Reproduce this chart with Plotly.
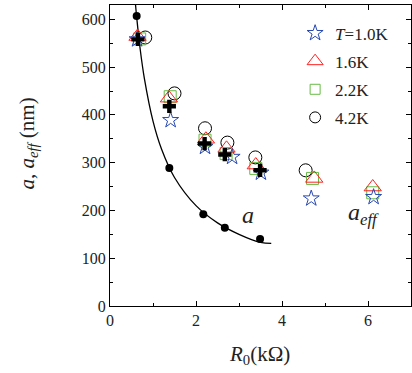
import plotly.graph_objects as go

# a (black dots) and fitted curve
a_R = [0.62, 1.38, 2.17, 2.67, 3.49]
a_val = [607, 289, 192, 164, 140]
curve_R = [0.59, 0.62, 0.7, 0.8, 1.0, 1.2, 1.5, 2.0, 2.5, 3.0, 3.5, 3.75]
curve_a = [634, 605, 539, 476, 387, 328, 269, 210, 174, 150, 133, 131]

# a_eff black crosses
cross_R = [0.65, 1.38, 2.20, 2.67, 3.49]
cross_v = [558, 418, 340, 317, 284]

# T = 1.0K stars
t10_R = [0.63, 1.41, 2.21, 2.84, 3.51, 4.68, 6.13]
t10_v = [558, 389, 333, 312, 279, 225, 228]
# 1.6K triangles
t16_R = [0.64, 1.37, 2.23, 2.71, 3.39, 4.75, 6.11]
t16_v = [564, 435, 349, 330, 295, 267, 249]
# 2.2K squares
t22_R = [0.69, 1.40, 2.21, 2.70, 3.39, 4.71, 6.11]
t22_v = [559, 438, 347, 319, 288, 267, 237]
# 4.2K circles
t42_R = [0.82, 1.50, 2.21, 2.73, 3.38, 4.55]
t42_v = [562, 445, 372, 342, 311, 284]

serif = "Liberation Serif"
fig = go.Figure()
fig.add_trace(go.Scatter(x=curve_R, y=curve_a, mode="lines", line=dict(color="black", width=1.3, shape="spline"), showlegend=False))
fig.add_trace(go.Scatter(x=a_R, y=a_val, mode="markers", marker=dict(symbol="circle", size=8, color="black"), showlegend=False))
fig.add_trace(go.Scatter(x=t42_R, y=t42_v, mode="markers", name="4.2K",
                         marker=dict(symbol="circle-open", size=13, color="black", line=dict(width=1)), showlegend=False))
fig.add_trace(go.Scatter(x=t22_R, y=t22_v, mode="markers", name="2.2K",
                         marker=dict(symbol="square-open", size=12, color="#66bb44", line=dict(width=1)), showlegend=False))
fig.add_trace(go.Scatter(x=t16_R, y=t16_v, mode="markers", name="1.6K",
                         marker=dict(symbol="triangle-up-open", size=15, color="#ff2020", line=dict(width=1)), showlegend=False))
fig.add_trace(go.Scatter(x=t10_R, y=t10_v, mode="markers", name="<i>T</i>=1.0K",
                         marker=dict(symbol="star-open", size=12, color="#2848b0", line=dict(width=1)), showlegend=False))
fig.add_trace(go.Scatter(x=cross_R, y=cross_v, mode="markers",
                         marker=dict(symbol="cross", size=11, color="black", line=dict(width=0)), showlegend=False))

# legend entries (dummy traces for legend display)
for i, (nm, sym, col, sz) in enumerate([("<i>T</i>=1.0K", "star-open", "#2848b0", 12),
                                        ("1.6K", "triangle-up-open", "#ff2020", 14),
                                        ("2.2K", "square-open", "#66bb44", 10),
                                        ("4.2K", "circle-open", "black", 11)]):
    fig.add_trace(go.Scatter(x=[None], y=[None], mode="markers", name=nm, legendgroup=f"g{i}",
                             marker=dict(symbol=sym, size=sz, color=col, line=dict(width=1))))

axis_common = dict(showline=True, linecolor="black", linewidth=1, mirror="allticks", ticks="inside",
                   ticklen=5, tickcolor="black", showgrid=False, zeroline=False,
                   tickfont=dict(family=serif, size=16, color="#222"))
fig.update_xaxes(range=[0, 7], dtick=2, tick0=0,
                 minor=dict(ticks="inside", ticklen=3, dtick=1, tickcolor="black", showgrid=False), **axis_common)
fig.update_yaxes(range=[0, 630], dtick=100, tick0=0,
                 minor=dict(ticks="inside", ticklen=3, dtick=50, tickcolor="black", showgrid=False), **axis_common)

fig.update_layout(
    width=412, height=373, margin=dict(l=110, r=1, t=5, b=67),
    paper_bgcolor="white", plot_bgcolor="white",
    font=dict(family=serif, color="#222"),
    legend=dict(x=0.615, y=0.965, xanchor="left", yanchor="top", bgcolor="rgba(0,0,0,0)",
                font=dict(family=serif, size=17, color="#222"), tracegroupgap=3, itemsizing="trace"),
    annotations=[
        dict(x=3.2, y=190, xref="x", yref="y", text="<i>a</i>", showarrow=False,
             xanchor="center", yanchor="middle", font=dict(family=serif, size=24, color="#222")),
        dict(x=5.9, y=192, xref="x", yref="y", text="<i>a</i><sub><i>eff</i></sub>", showarrow=False,
             xanchor="center", yanchor="middle", font=dict(family=serif, size=24, color="#222")),
        dict(x=-0.272, y=0.54, xref="paper", yref="paper", text="<i>a</i>, <i>a</i><sub><i>eff</i></sub> (nm)",
             xanchor="center", yanchor="middle",
             textangle=-90, showarrow=False, font=dict(family=serif, size=21, color="#222")),
        dict(x=0.498, y=-0.163, xref="paper", yref="paper", text="<i>R</i><sub>0</sub>(kΩ)",
             xanchor="center", yanchor="middle",
             showarrow=False, font=dict(family=serif, size=21, color="#222")),
    ],
)
fig.write_html("out.html", config={"displayModeBar": False},
               post_script="document.body.style.margin='0';document.body.style.overflow='hidden';")
